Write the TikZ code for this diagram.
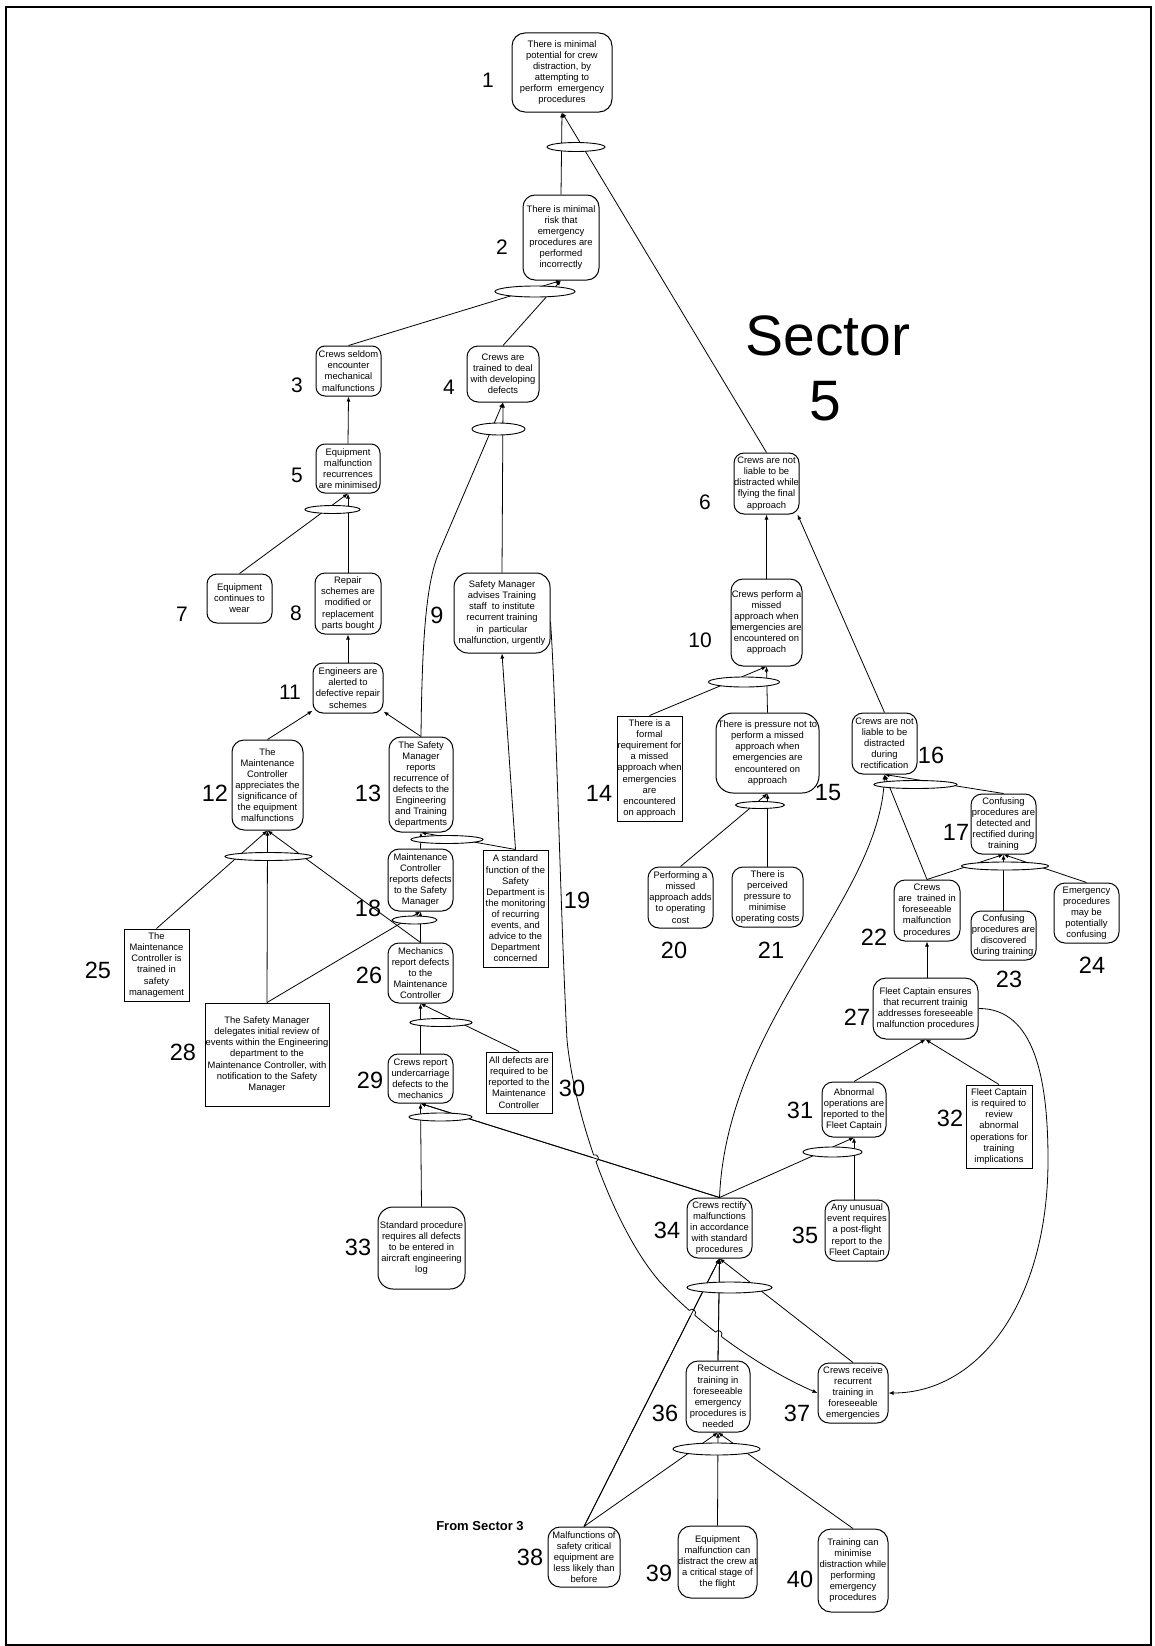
\documentclass[tikz,border=0pt]{standalone}
\usepackage{fontspec}
\setmainfont{Liberation Sans}
\usetikzlibrary{arrows.meta,calc,intersections,shapes.geometric}
\pgfdeclarelayer{back}
\pgfsetlayers{back,main}

\begin{document}
\begin{tikzpicture}[x=1pt,y=-1pt,
  txt/.style={font=\fontsize{9.4}{11.1}\selectfont},
  gbox/.style n args={3}{draw, line width=1pt, fill=white, rounded corners=#3,
    minimum width=#1, minimum height=#2, inner sep=0pt, align=center, txt},
  rbox/.style n args={2}{draw, line width=1pt, fill=white,
    minimum width=#1, minimum height=#2, inner sep=0pt, align=center, txt},
  andel/.style n args={2}{draw, ellipse, line width=0.9pt, fill=white,
    minimum width=#1, minimum height=#2, inner sep=0pt},
  num/.style={font=\fontsize{23.5}{23.5}\selectfont, inner sep=0pt},
  numsm/.style={font=\fontsize{21}{21}\selectfont, inner sep=0pt},
  conn/.style={line width=0.8pt, -{Latex[length=5pt,width=4pt]}},
  hop/.style={line width=0.8pt}
]
\useasboundingbox (0,0) rectangle (1155,1646);
\draw[line width=2.3pt] (6,7) rectangle (1151,1645);

% goals and strategies
\node[gbox={100pt}{79pt}{13pt}] (n1) at (562,72.5) {There is minimal\\potential for crew\\distraction, by\\attempting to\\perform\ \ emergency\\procedures};
\node[gbox={76pt}{85pt}{12pt}] (n2) at (561,237.5) {There is minimal\\risk that\\emergency\\procedures are\\performed\\incorrectly};
\node[gbox={65pt}{50pt}{9pt}] (n3) at (348.5,371) {Crews seldom\\encounter\\mechanical\\malfunctions};
\node[gbox={72pt}{56pt}{11pt}] (n4) at (503,374) {Crews are\\trained to deal\\with developing\\defects};
\node[gbox={64pt}{49pt}{9pt}] (n5) at (348,468.5) {Equipment\\malfunction\\recurrences\\are minimised};
\node[gbox={65pt}{61pt}{10pt}] (n6) at (766.5,483.5) {Crews are not\\liable to be\\distracted while\\flying the final\\approach};
\node[gbox={65pt}{49pt}{10pt}] (n7) at (239.5,598.5) {Equipment\\continues to\\wear};
\node[gbox={66pt}{61pt}{10pt}] (n8) at (348,603.5) {Repair\\schemes are\\modified or\\replacement\\parts bought};
\node[gbox={96pt}{80pt}{14pt}] (n9) at (502,613) {Safety Manager\\advises Training\\staff\ \ to institute\\recurrent training\\in\ \ particular\\malfunction, urgently};
\node[gbox={71pt}{87pt}{12pt}] (n10) at (766.5,622.5) {Crews perform a\\missed\\approach when\\emergencies are\\encountered on\\approach};
\node[gbox={70pt}{50pt}{10pt}] (n11) at (348,688) {Engineers are\\alerted to\\defective repair\\schemes};
\node[gbox={71pt}{90pt}{12pt}] (n12) at (267.5,785) {The\\Maintenance\\Controller\\appreciates the\\significance of\\the equipment\\malfunctions};
\node[gbox={64pt}{95pt}{12pt}] (n13) at (421,784.5) {The Safety\\Manager\\reports\\recurrence of\\defects to the\\Engineering\\and Training\\departments};
\node[rbox={65pt}{105pt}] (n14) at (649.5,768.5) {There is a\\formal\\requirement for\\a missed\\approach when\\emergencies\\are\\encountered\\on approach};
\node[gbox={103pt}{80pt}{17pt}] (n15) at (767.5,753) {There is pressure not to\\perform a missed\\approach when\\emergencies are\\encountered on\\approach};
\node[gbox={65pt}{61pt}{11pt}] (n16) at (884.5,743.5) {Crews are not\\liable to be\\distracted\\during\\rectification};
\node[gbox={65pt}{60pt}{11pt}] (n17) at (1003.5,824) {Confusing\\procedures are\\detected and\\rectified during\\training};
\node[gbox={65pt}{62pt}{11pt}] (n18) at (420.5,880) {Maintenance\\Controller\\reports defects\\to the Safety\\Manager};
\node[rbox={65pt}{117pt}] (n19) at (515.5,908.5) {A standard\\function of the\\Safety\\Department is\\the monitoring\\of recurring\\events, and\\advice to the\\Department\\concerned};
\node[gbox={65pt}{61pt}{11pt}] (n20) at (680.5,897.5) {Performing a\\missed\\approach adds\\to operating\\cost};
\node[gbox={71pt}{60pt}{11pt}] (n21) at (767.5,897) {There is\\perceived\\pressure to\\minimise\\operating costs};
\node[gbox={66pt}{61pt}{11pt}] (n22) at (927,910.5) {Crews\\are\ \ trained in\\foreseeable\\malfunction\\procedures};
\node[gbox={65pt}{49pt}{10pt}] (n23) at (1003.5,935.5) {Confusing\\procedures are\\discovered\\during training};
\node[gbox={65pt}{60pt}{11pt}] (n24) at (1086.5,913) {Emergency\\procedures\\may be\\potentially\\confusing};
\node[rbox={65pt}{72pt}] (n25) at (156.5,965) {The\\Maintenance\\Controller is\\trained in\\safety\\management};
\node[gbox={65pt}{60pt}{11pt}] (n26) at (420.5,973) {Mechanics\\report defects\\to the\\Maintenance\\Controller};
\node[gbox={105pt}{61pt}{13pt}] (n27) at (925.5,1008.5) {Fleet Captain ensures\\that recurrent trainig\\addresses foreseeable\\malfunction procedures};
\node[rbox={124pt}{103pt}] (n28) at (267,1054.5) {The Safety Manager\\delegates initial review of\\events within the Engineering\\department to the\\Maintenance Controller, with\\notification to the Safety\\Manager};
\node[gbox={65pt}{49pt}{10pt}] (n29) at (420.5,1078.5) {Crews report\\undercarriage\\defects to the\\mechanics};
\node[rbox={66pt}{61pt}] (n30) at (519,1082.5) {All defects are\\required to be\\reported to the\\Maintenance\\Controller};
\node[gbox={64pt}{55pt}{11pt}] (n31) at (854,1109.5) {Abnormal\\operations are\\reported to the\\Fleet Captain};
\node[rbox={66pt}{83pt}] (n32) at (999,1126.5) {Fleet Captain\\is required to\\review\\abnormal\\operations for\\training\\implications};
\node[gbox={87pt}{82pt}{15pt}] (n33) at (421.5,1248) {Standard procedure\\requires all defects\\to be entered in\\aircraft engineering\\log};
\node[gbox={65pt}{60pt}{11pt}] (n34) at (719.5,1228) {Crews rectify\\malfunctions\\in accordance\\with standard\\procedures};
\node[gbox={64pt}{61pt}{11pt}] (n35) at (857,1230.5) {Any unusual\\event requires\\a post-flight\\report to the\\Fleet Captain};
\node[gbox={64pt}{71pt}{12pt}] (n36) at (718,1396.5) {Recurrent\\training in\\foreseeable\\emergency\\procedures is\\needed};
\node[gbox={70pt}{60pt}{11pt}] (n37) at (853,1393) {Crews receive\\recurrent\\training in\\foreseeable\\emergencies};
\node[gbox={72pt}{60pt}{12pt}] (n38) at (584,1557) {Malfunctions of\\safety critical\\equipment are\\less likely than\\before};
\node[gbox={79pt}{72pt}{13pt}] (n39) at (717.5,1562) {Equipment\\malfunction can\\distract the crew at\\a critical stage of\\the flight};
\node[gbox={70pt}{83pt}{13pt}] (n40) at (853,1570.5) {Training can\\minimise\\distraction while\\performing\\emergency\\procedures};

% conjunction ellipses
\node[andel={58pt}{9pt}] (e1) at (576,147) {};
\node[andel={80pt}{11pt}] (e2) at (535,291.5) {};
\node[andel={53pt}{12pt}] (e4) at (498.5,429) {};
\node[andel={55pt}{8pt}] (e5) at (332.5,509.5) {};
\node[andel={71pt}{10pt}] (e10) at (744,682) {};
\node[andel={87pt}{8pt}] (e12) at (268.5,856.5) {};
\node[andel={72pt}{8pt}] (e13) at (447,839.5) {};
\node[andel={49pt}{7pt}] (e15) at (760,805) {};
\node[andel={83pt}{8pt}] (e16) at (915.5,784.5) {};
\node[andel={87pt}{8pt}] (e17) at (1005,866) {};
\node[andel={45pt}{8pt}] (e18) at (414.5,920) {};
\node[andel={62pt}{8pt}] (e26) at (441,1022.5) {};
\node[andel={63pt}{8pt}] (e29) at (440.5,1117) {};
\node[andel={59pt}{10pt}] (e31) at (832.5,1152) {};
\node[andel={85pt}{11pt}] (e34) at (729.5,1287.5) {};
\node[andel={87pt}{12pt}] (e36) at (716.5,1449) {};

% reference numbers
\node[numsm] (l1) at (488,80) {1};
\node[numsm] (l2) at (502,247) {2};
\node[numsm] (l3) at (297,385) {3};
\node[numsm] (l4) at (449,387) {4};
\node[numsm] (l5) at (297,475) {5};
\node[numsm] (l6) at (705,502) {6};
\node[numsm] (l7) at (182,614) {7};
\node[numsm] (l8) at (296,613) {8};
\node[num] (l9) at (437,615) {9};
\node[numsm] (l10) at (700,640) {10};
\node[numsm] (l11) at (290,692) {11};
\node[num] (l12) at (215,793) {12};
\node[num] (l13) at (368,793) {13};
\node[num] (l14) at (599,793) {14};
\node[num] (l15) at (828,793) {15};
\node[num] (l16) at (931,755) {16};
\node[num] (l17) at (956,832) {17};
\node[num] (l18) at (368,908) {18};
\node[num] (l19) at (577,900) {19};
\node[num] (l20) at (674,950) {20};
\node[num] (l21) at (771,950) {21};
\node[num] (l22) at (874,937) {22};
\node[num] (l23) at (1009,979) {23};
\node[num] (l24) at (1092,965) {24};
\node[num] (l25) at (98,970) {25};
\node[num] (l26) at (369,975) {26};
\node[num] (l27) at (857,1017) {27};
\node[num] (l28) at (183,1052) {28};
\node[num] (l29) at (370,1080) {29};
\node[num] (l30) at (572,1088) {30};
\node[num] (l31) at (800,1110) {31};
\node[num] (l32) at (950,1118) {32};
\node[num] (l33) at (358,1247) {33};
\node[num] (l34) at (667,1230) {34};
\node[num] (l35) at (805,1235) {35};
\node[num] (l36) at (665,1413) {36};
\node[num] (l37) at (797,1413) {37};
\node[num] (l38) at (530,1557) {38};
\node[num] (l39) at (659,1573) {39};
\node[num] (l40) at (800,1579) {40};

% titles
\node[font=\fontsize{57}{57}\selectfont, anchor=base, inner sep=0pt] (sec) at (828,355) {Sector};
\node[font=\fontsize{57}{57}\selectfont, anchor=base, inner sep=0pt] (secnum) at (825,420) {5};
\node[font=\bfseries\fontsize{13}{13}\selectfont, inner sep=0pt] (from3) at (480,1526) {From Sector 3};

\begin{pgfonlayer}{back}
\draw[conn] (n2.north) -- (n1.south);
\draw[conn] (n6.north) -- (n1.south);
\draw[conn] (n3.north) -- (n2.south);
\draw[conn] (n4.north) -- (n2.south);
\draw[conn] (n5.north) -- (n3.south);
\draw[conn] (n9.north) -- (n4.south);
\draw[conn] (n13.north) .. controls (422,640) and (426,580) .. (440,550) -- (n4.south);
\draw[conn] (n7.north) -- (n5.south);
\draw[conn] (n8.north) -- (n5.south);
\draw[conn] (n11.north) -- (n8.south);
\draw[conn] (n12.north) -- (n11);
\draw[conn] (n13.north) -- (n11);
\draw[conn] (n10.north) -- (n6.south);
\draw[conn] (n16.north) -- (n6.-45);
\draw[conn] (n14.north) -- (n10.south);
\draw[conn] (n15.north) -- (n10.south);
\draw[conn] (n20.north) -- (n15.south);
\draw[conn] (n21.north) -- (n15.south);
\draw[conn] (n19.north) -- (n9.south);
\draw[conn] (n19.north) -- (n13.south);
\draw[conn] (n18.north) -- (n13.south);
\draw[conn] (n25.north) -- (n12.south);
\draw[conn] (n28.north) -- (n12.south);
\draw[conn] (n26.north) -- (n12.south);
\draw[conn] (n28.north) -- (n18.south);
\draw[conn] (n26.north) -- (n18.south);
\draw[conn] (n29.north) -- (n26.south);
\draw[conn] (n30.north) -- (n26.south);
\draw[conn] (n33.north) -- (n29.south);
\draw[conn, name path=l3429] (n34.north) -- (n29.south);
\draw[conn] (n34.north) -- (n31.south);
\draw[conn] (n31.south |- n35.north) -- (n31.south);
\draw[conn] (n31.north) -- (n27.south);
\draw[conn] (n32.north) -- (n27.south);
\draw[conn] (n22.south |- n27.north) -- (n22.south);
\draw[conn] (n22.north) -- (n16.south);
\draw[conn] (n17.north) -- (n16.south);
\draw[conn] (n22.north) -- (n17.south);
\draw[conn] (n23.north) -- (n17.south);
\draw[conn] (n24.north) -- (n17.south);
\draw[conn] (n34.north) .. controls (727,1020) and (880,900) .. (n16.south);
\draw[conn, name path=l3634] (n36.north) -- (n34.south);
\draw[conn] (n37.north) -- (n34.south);
\draw[conn, name path=l3834] (n38.north) -- (n34.south);
\draw[conn] (n38.north) -- (n36.south);
\draw[conn] (n39.north) -- (n36.south);
\draw[conn] (n40.north) -- (n36.south);
\draw[conn] (n27.east) .. controls (1035,1008) and (1048,1080) .. (1048,1160)
  .. controls (1048,1300) and (980,1393) .. (n37.east);
\draw[conn, name path=c9] (n9.-10) .. controls (556,700) and (560,900) .. (567,1040)
  .. controls (575,1120) and (615,1230) .. (660,1282)
  .. controls (700,1325) and (760,1368) .. (n37.west);
% line jumps where the long curve crosses straight links
\path[name intersections={of=c9 and l3429, by=h1}];
\path[name intersections={of=c9 and l3834, by=h2}];
\path[name intersections={of=c9 and l3634, by=h3}];
\fill[white] (h1) circle[radius=3.6pt];
\fill[white] (h2) circle[radius=3.6pt];
\fill[white] (h3) circle[radius=3.6pt];
\draw[conn] (n34.north) -- (n29.south);
\draw[conn] (n38.north) -- (n34.south);
\draw[conn] (n36.north) -- (n34.south);
\draw[hop, shift={(h1)}, rotate=-71] (-3.6pt,0pt) arc[start angle=180, end angle=0, radius=3.6pt];
\draw[hop, shift={(h2)}, rotate=-41] (-3.6pt,0pt) arc[start angle=180, end angle=0, radius=3.6pt];
\draw[hop, shift={(h3)}, rotate=-37] (-3.6pt,0pt) arc[start angle=180, end angle=0, radius=3.6pt];
\end{pgfonlayer}
\end{tikzpicture}
\end{document}
